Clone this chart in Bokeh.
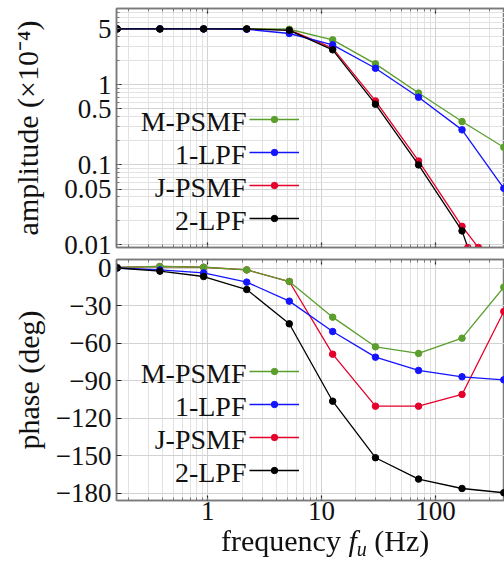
import numpy as np
from bokeh.plotting import figure
from bokeh.models import (FixedTicker, CustomJSTickFormatter, LogAxis,
                          Legend, LegendItem, Label, Range1d, Div)
from bokeh.layouts import column
from bokeh.embed import file_html
from bokeh.resources import INLINE

# ---------------- data ----------------
freq = [0.16, 0.38, 0.92, 2.2, 5.2, 12.5, 29.7, 71.0, 171.0, 398.0]

names = ["M-PSMF", "1-LPF", "J-PSMF", "2-LPF"]

amp_mpsmf = [5.0, 5.0, 5.0, 5.0, 4.95, 3.65, 1.83, 0.79, 0.348, 0.166]
amp_1lpf = [5.0, 5.0, 5.0, 4.95, 4.38, 3.16, 1.61, 0.70, 0.274, 0.051]
amp_jpsmf = [5.0, 5.0, 5.0, 5.0, 4.85, 2.87, 0.63, 0.112, 0.0171, 0.0036]
amp_2lpf = [5.0, 5.0, 5.0, 5.0, 4.8, 2.74, 0.573, 0.100, 0.0150, 0.00048]

ph_mpsmf = [0.5, 1.2, 0.6, -1.5, -10.8, -39.3, -63.0, -68.3, -56.1, -15.3]
ph_1lpf = [0.0, -1.5, -3.9, -11.3, -26.5, -50.8, -71.3, -81.9, -87.0, -89.4]
ph_jpsmf = [0.5, 1.2, 0.6, -1.5, -10.8, -68.9, -110.5, -110.5, -101.1, -34.8]
ph_2lpf = [0.0, -2.5, -6.8, -17.2, -44.6, -106.5, -151.7, -168.8, -176.3, -179.7]

x_ticks = [1, 10, 100]
amp_ticks = [0.01, 0.05, 0.1, 0.5, 1, 5]
phase_ticks = [-180, -150, -120, -90, -60, -30, 0]

# ---------------- styling ----------------
FONT = "Liberation Serif"
colors = {"M-PSMF": "#5a9e2c", "1-LPF": "#1414ff", "J-PSMF": "#e4002b", "2-LPF": "#000000"}
X_RANGE = (0.158, 403.6)
AMP_RANGE = (0.0093, 8.99)
PH_RANGE = (-185.9, 6.8)

x_minor = [m * 10.0 ** e for e in (-1, 0, 1, 2) for m in range(1, 10)]
amp_minor = [m * 10.0 ** e for e in (-3, -2, -1, 0) for m in range(1, 10)]


def fmt_plain():
    return CustomJSTickFormatter(code="return tick.toString();")


def fmt_minus():
    return CustomJSTickFormatter(code="return tick < 0 ? '\u2212' + (-tick) : tick.toString();")


def fmt_blank():
    return CustomJSTickFormatter(code="return '';")


def style_axis(ax, show_labels):
    ax.major_tick_in = 5
    ax.major_tick_out = 0
    ax.minor_tick_in = 3
    ax.minor_tick_out = 0
    ax.major_tick_line_color = "#222222"
    ax.major_tick_line_width = 1.2
    ax.minor_tick_line_color = "#777777"
    ax.axis_line_color = "#7a7a7a"
    ax.axis_line_width = 1.5
    if show_labels:
        ax.major_label_text_font = FONT
        ax.major_label_text_font_size = "27px"
        ax.major_label_text_color = "#111111"
    else:
        ax.axis_label = None
        ax.formatter = fmt_blank()
        ax.major_label_text_font_size = "2px"
        ax.major_label_text_color = None
        ax.major_label_standoff = 0


def make_fig(y_type, y_range, y_ticks, y_minor, y_fmt, frame_h, b_top, b_bottom, show_x_labels):
    p = figure(x_axis_type="log", y_axis_type=y_type,
               x_range=Range1d(*X_RANGE), y_range=Range1d(*y_range),
               frame_width=388, frame_height=frame_h,
               min_border_left=116, min_border_right=0,
               min_border_top=b_top, min_border_bottom=b_bottom,
               output_backend="svg", toolbar_location=None)
    p.title.visible = False
    p.outline_line_color = "#7a7a7a"
    p.outline_line_width = 1.5
    p.background_fill_color = "white"
    p.border_fill_color = "white"

    xt = FixedTicker(ticks=x_ticks, minor_ticks=x_minor)
    yt = FixedTicker(ticks=y_ticks, minor_ticks=y_minor)
    p.xaxis.ticker = xt
    p.yaxis.ticker = yt
    p.xgrid.ticker = xt
    p.ygrid.ticker = yt
    p.xaxis.formatter = fmt_plain()
    p.yaxis.formatter = y_fmt
    for ax in p.xaxis:
        style_axis(ax, show_x_labels)
        ax.major_label_standoff = 1 if show_x_labels else 0
    for ax in p.yaxis:
        style_axis(ax, True)
        ax.major_label_standoff = 5
        ax.axis_label_text_font = FONT
        ax.axis_label_text_font_size = "30px"
        ax.axis_label_text_font_style = "normal"
        ax.axis_label_text_color = "#111111"

    p.xgrid.grid_line_color = "#d2d2d2"
    p.xgrid.minor_grid_line_color = "#e2e2e2"
    p.ygrid.grid_line_color = "#d2d2d2"
    if y_minor:
        p.ygrid.minor_grid_line_color = "#e2e2e2"

    top = LogAxis(ticker=FixedTicker(ticks=x_ticks, minor_ticks=x_minor))
    style_axis(top, False)
    p.add_layout(top, "above")
    return p


GH = 16      # legend glyph box height (sets legend marker size)
STEP = 33    # distance between legend rows


def add_series(p, series, legend_y):
    rends = {}
    for name in ["J-PSMF", "M-PSMF", "1-LPF", "2-LPF"]:
        vals = series[name]
        l = p.line(freq, vals, line_color=colors[name], line_width=1.3)
        s = p.scatter(freq, vals, size=6.5, color=colors[name])
        rends[name] = (l, s)
    items = [LegendItem(label=" ", renderers=list(rends[n])) for n in names]
    leg = Legend(items=items, location=(133, legend_y), glyph_width=50, glyph_height=GH,
                 spacing=STEP - GH, padding=0, margin=0, label_width=1, label_standoff=0,
                 label_height=GH, label_text_font_size="2px",
                 border_line_alpha=0, background_fill_alpha=0)
    p.add_layout(leg)
    n = len(names)
    for i, name in enumerate(names):
        cy = legend_y + (n - 1 - i) * STEP + GH / 2.0
        p.add_layout(Label(x=130, y=cy - 2, x_units="screen", y_units="screen", text=name,
                           text_align="right", text_baseline="middle",
                           text_font=FONT, text_font_size="28px", text_color="#111111"))


# ---------------- amplitude panel ----------------
p1 = make_fig("log", AMP_RANGE, amp_ticks, amp_minor, fmt_plain(), 239, 8, 8, False)
p1.yaxis.axis_label = "amplitude (×10⁻⁴)"
p1.yaxis.axis_label_standoff = 17
add_series(p1, {"M-PSMF": amp_mpsmf, "1-LPF": amp_1lpf, "J-PSMF": amp_jpsmf, "2-LPF": amp_2lpf}, 21)

# markers where the steep curves leave the bottom of the amplitude frame
lx, ly = [], []
ymin = np.log10(AMP_RANGE[0])
for vals in (amp_2lpf, amp_jpsmf):
    lf, lv = np.log10(freq), np.log10(vals)
    for k in range(len(lv) - 1):
        if lv[k] >= ymin > lv[k + 1]:
            t = (lv[k] - ymin) / (lv[k] - lv[k + 1])
            lx.append(float(10 ** (lf[k] + t * (lf[k + 1] - lf[k]))))
            ly.append(AMP_RANGE[0])
p1.scatter(lx, ly, size=6.5, color=colors["J-PSMF"])

# ---------------- phase panel ----------------
p2 = make_fig("linear", PH_RANGE, phase_ticks, [], fmt_minus(), 241, 4, 33, True)
p2.yaxis.axis_label = "phase (deg)"
p2.yaxis.axis_label_standoff = 8
add_series(p2, {"M-PSMF": ph_mpsmf, "1-LPF": ph_1lpf, "J-PSMF": ph_jpsmf, "2-LPF": ph_2lpf}, 22)

# ---------------- x-axis title: frequency f_u (Hz) ----------------
title_html = (
    '<div style="position:fixed; left:221px; top:526px; white-space:nowrap; '
    'font-family:\'Liberation Serif\', serif; font-size:30px; line-height:30px; color:#111111;">'
    'frequency <i>f</i><sub style="font-size:20px; line-height:0; vertical-align:-5px;"><i>u</i></sub> (Hz)'
    '</div>'
)
xtitle = Div(text=title_html, width=504, height=4)

layout = column(p1, p2, xtitle, spacing=0)
open("out.html", "w").write(file_html(layout, INLINE))
